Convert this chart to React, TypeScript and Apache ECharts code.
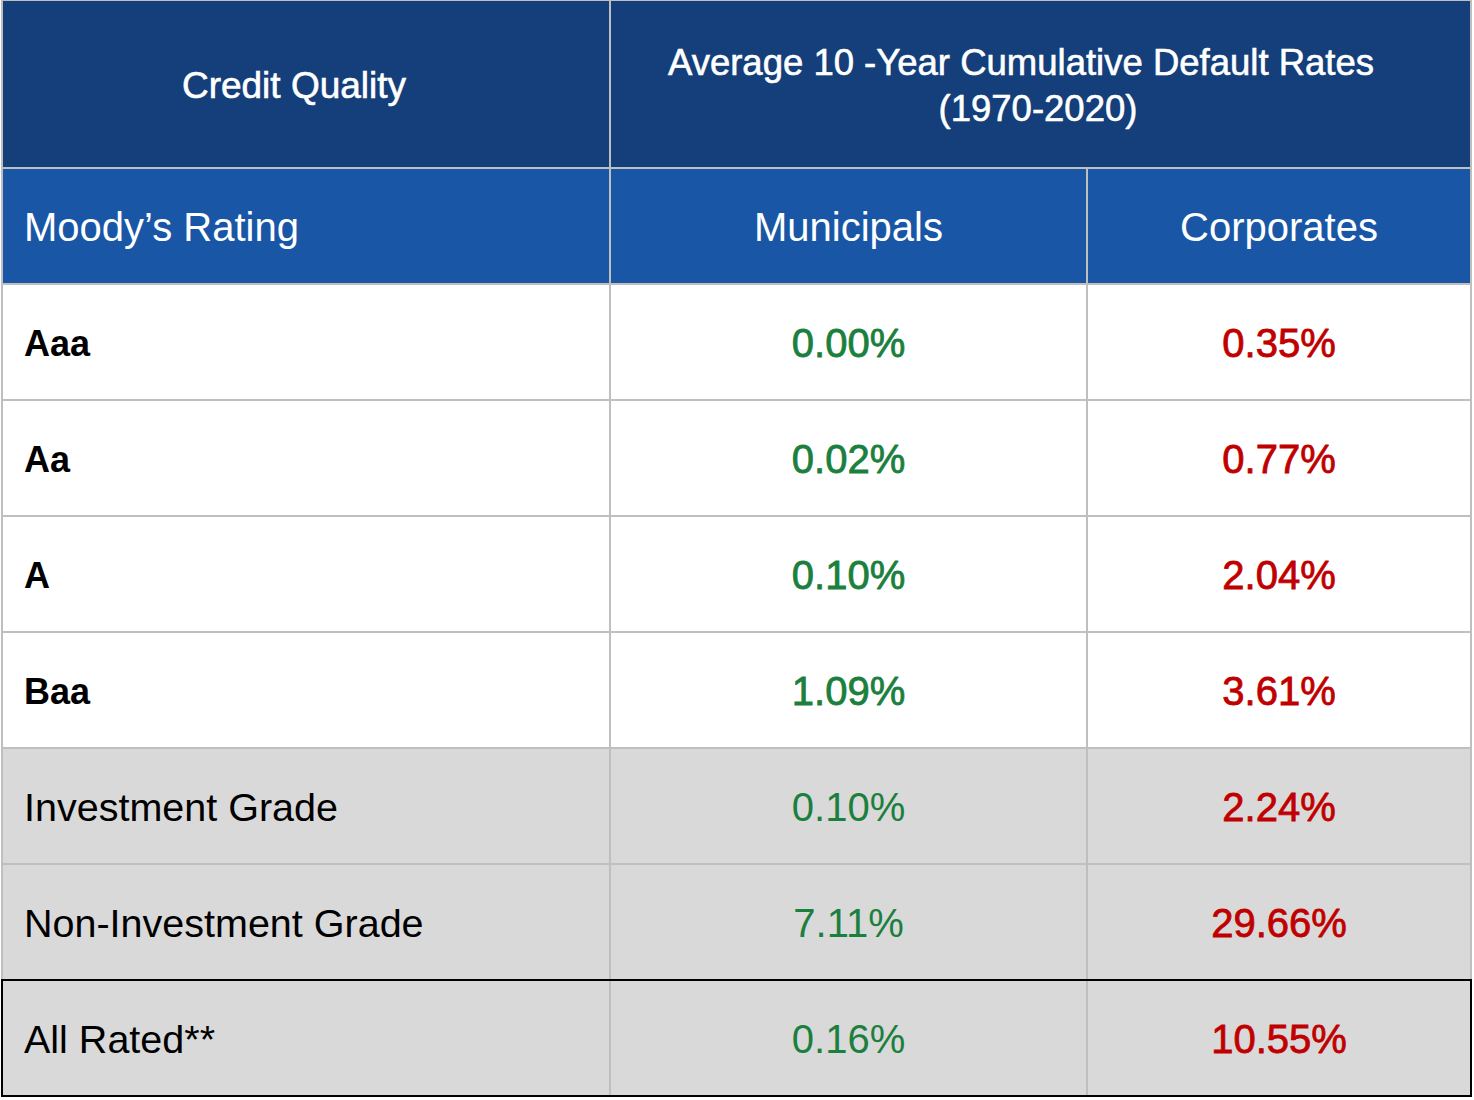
import React, { useEffect, useRef } from "react";
import * as echarts from "echarts";

// ---- data ----
const topHeaders = ["Credit Quality", "Average 10 -Year Cumulative Default Rates", "(1970-2020)"];
const columnHeaders = ["Moody’s Rating", "Municipals", "Corporates"];
const ratings = ["Aaa", "Aa", "A", "Baa", "Investment Grade", "Non-Investment Grade", "All Rated**"];
const municipals = [0.0, 0.02, 0.1, 1.09, 0.1, 7.11, 0.16];
const corporates = [0.35, 0.77, 2.04, 3.61, 2.24, 29.66, 10.55];

// ---- layout / style ----
const COL_EDGES = [0, 608, 1085, 1469];
const FONT = '"Liberation Sans", Arial, Helvetica, sans-serif';
const NAVY = "#143F7A";
const BLUE = "#1957A6";
const GRAY = "#D9D9D9";
const LINE = "#BFBFBF";
const GREEN = "#1B7F3E";
const RED = "#C00000";
const SUMMARY_START = 4;

const fmt = (v: number) => v.toFixed(2) + "%";

export default function App() {
  const ref = useRef<HTMLDivElement>(null);

  useEffect(() => {
    if (!ref.current) return;
    const chart = echarts.init(ref.current, undefined, { renderer: "svg" });

    const rowCats = ["header", ...ratings];
    const cells: any[] = [];
    rowCats.forEach((_, r) => {
      for (let c = 0; c < 3; c++) cells.push([c, r]);
    });

    const cellText = (c: number, r: number) => {
      if (r === 0) return columnHeaders[c];
      const i = r - 1;
      if (c === 0) return ratings[i];
      if (c === 1) return fmt(municipals[i]);
      return fmt(corporates[i]);
    };

    const renderCell = (params: any, api: any) => {
      const c = api.value(0);
      const r = api.value(1);
      const center = api.coord([COL_EDGES[c], r]);
      const x0 = center[0];
      const x1 = api.coord([COL_EDGES[c + 1], r])[0];
      const h = api.size([0, 1])[1];
      const y0 = center[1] - h / 2;
      const i = r - 1;
      const summary = i >= SUMMARY_START;
      let fill = "#FFFFFF";
      if (r === 0) fill = BLUE;
      else if (summary) fill = GRAY;

      let color = "#000000";
      let weight: any = "normal";
      let size = 39;
      let medium = false;
      if (r === 0) {
        color = "#FFFFFF";
        size = 40;
      } else if (c === 0) {
        if (!summary) {
          weight = "bold";
          size = 36;
        } else {
          size = 39.5;
        }
      } else if (c === 1) {
        color = GREEN;
        size = 40;
        medium = !summary;
      } else {
        color = RED;
        size = 40;
        medium = true;
      }
      const tx = c === 0 ? x0 + 22 : (x0 + x1) / 2;
      return {
        type: "group",
        children: [
          {
            type: "rect",
            shape: { x: x0, y: y0, width: x1 - x0, height: h },
            style: { fill, stroke: LINE, lineWidth: 2 },
          },
          {
            type: "text",
            style: {
              text: cellText(c, r),
              x: tx,
              y: center[1] + 1,
              fill: color,
              fontFamily: FONT,
              fontSize: size,
              fontWeight: weight,
              align: c === 0 ? "left" : "center",
              verticalAlign: "middle",
              stroke: medium ? color : undefined,
              lineWidth: medium ? 0.8 : 0,
            },
          },
        ],
      };
    };

    const renderFrame = (params: any, api: any) => {
      const r = api.value(0);
      const left = api.coord([COL_EDGES[0], r]);
      const right = api.coord([COL_EDGES[COL_EDGES.length - 1], r]);
      const h = api.size([0, 1])[1];
      return {
        type: "rect",
        shape: { x: left[0], y: left[1] - h / 2, width: right[0] - left[0], height: h },
        style: { fill: "none", stroke: "#000000", lineWidth: 2 },
      };
    };

    chart.setOption({
      animation: false,
      grid: { left: 2, right: 3, top: 168, bottom: 4 },
      xAxis: { type: "value", min: COL_EDGES[0], max: COL_EDGES[COL_EDGES.length - 1], show: false },
      yAxis: { type: "category", data: rowCats, inverse: true, show: false },
      graphic: [
        {
          type: "rect",
          shape: { x: 2, y: 0, width: 1469, height: 168 },
          style: { fill: NAVY, stroke: LINE, lineWidth: 2 },
          z: 0,
        },
        {
          type: "line",
          shape: { x1: 610, y1: 0, x2: 610, y2: 168 },
          style: { stroke: LINE, lineWidth: 2 },
        },
        {
          type: "text",
          style: {
            text: topHeaders[0],
            x: 294,
            y: 85,
            fill: "#FFFFFF",
            fontFamily: FONT,
            fontSize: 37,
            align: "center",
            verticalAlign: "middle",
            stroke: "#FFFFFF",
            lineWidth: 0.6,
          },
        },
        {
          type: "text",
          style: {
            text: topHeaders[1],
            x: 1021,
            y: 62,
            fill: "#FFFFFF",
            fontFamily: FONT,
            fontSize: 36.5,
            align: "center",
            verticalAlign: "middle",
            stroke: "#FFFFFF",
            lineWidth: 0.6,
          },
        },
        {
          type: "text",
          style: {
            text: topHeaders[2],
            x: 1038,
            y: 108,
            fill: "#FFFFFF",
            fontFamily: FONT,
            fontSize: 36.5,
            align: "center",
            verticalAlign: "middle",
            stroke: "#FFFFFF",
            lineWidth: 0.6,
          },
        },
      ],
      series: [
        {
          type: "custom",
          name: "cells",
          renderItem: renderCell,
          data: cells,
          encode: { x: 0, y: 1 },
          silent: true,
        },
        {
          type: "custom",
          name: "frame",
          renderItem: renderFrame,
          data: [[rowCats.length - 1]],
          encode: { y: 0 },
          silent: true,
        },
      ],
    });

    return () => chart.dispose();
  }, []);

  return (
    <div
      ref={ref}
      style={{ position: "fixed", left: 0, top: 0, width: 1474, height: 1100, background: "#FFFFFF" }}
    />
  );
}
